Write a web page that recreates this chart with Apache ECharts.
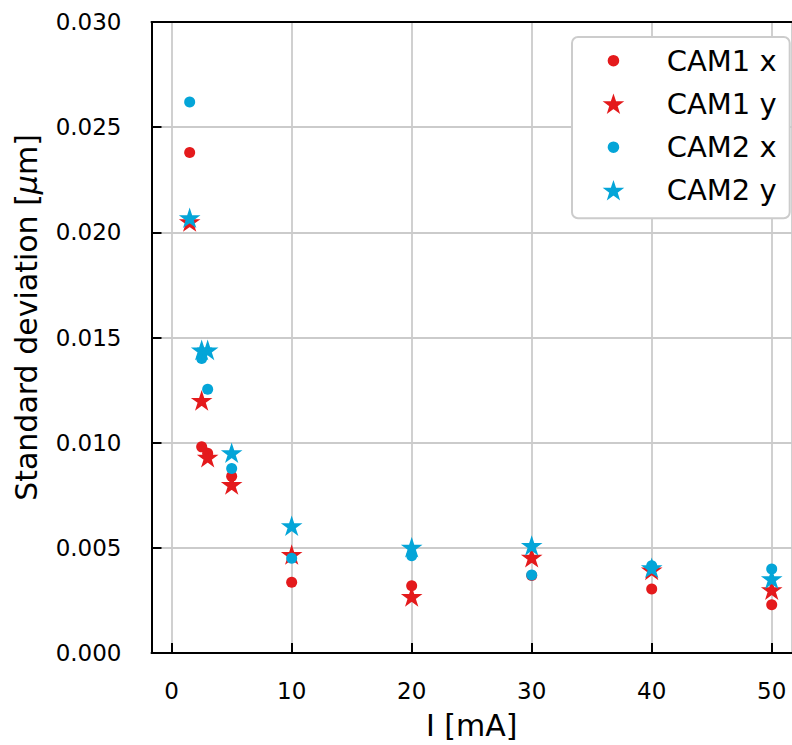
<!DOCTYPE html>
<html>
<head>
<meta charset="utf-8">
<script src="https://cdn.jsdelivr.net/npm/echarts@6/dist/echarts.min.js"></script>
<style>
  html, body { margin: 0; padding: 0; background: #fff; }
  #chart { width: 792px; height: 745px; }
</style>
</head>
<body>
<div id="chart"></div>
<script>
var current = [1.5, 2.5, 3, 5, 10, 20, 30, 40, 50];
var cam1x = [0.0238, 0.0098, 0.0095, 0.0084, 0.00336, 0.0032, 0.00368, 0.00304, 0.00229];
var cam1y = [0.0205, 0.0120, 0.0093, 0.0080, 0.00467, 0.00268, 0.00454, 0.00394, 0.0030];
var cam2x = [0.0262, 0.0140, 0.01254, 0.00877, 0.00451, 0.00462, 0.00371, 0.00415, 0.00399];
var cam2y = [0.02068, 0.0144, 0.0144, 0.00951, 0.00604, 0.00502, 0.0051, 0.00404, 0.00352];
var seriesNames = ['CAM1 x', 'CAM1 y', 'CAM2 x', 'CAM2 y'];

(function() {
  var red = '#e41a1c';
  var cyan = '#04a5d8';
  var font = 'DejaVu Sans';

  // 5-point star like matplotlib's '*' marker
  function starPts(cx, cy, R, r) {
    var s = '';
    for (var k = 0; k < 10; k++) {
      var a = -Math.PI / 2 + k * Math.PI / 5;
      var rad = k % 2 ? r : R;
      s += (k ? ' L' : 'M') + (cx + rad * Math.cos(a)).toFixed(2) + ' ' + (cy + rad * Math.sin(a)).toFixed(2);
    }
    return s + ' Z';
  }
  var star = 'path://' + starPts(50, 50, 50, 19.1);

  // legend icons: padded box so the marker sits where matplotlib puts it
  var boxW = 79, boxH = 30, mx = 30.7, my = 15;
  var legCircle = 'path://M0 0 M' + boxW + ' ' + boxH + ' M' + mx + ' ' + (my - 5.8) +
    ' A5.8 5.8 0 1 1 ' + mx + ' ' + (my + 5.8) + ' A5.8 5.8 0 1 1 ' + mx + ' ' + (my - 5.8) + ' Z';
  var legStar = 'path://M0 0 M' + boxW + ' ' + boxH + ' ' + starPts(mx, my + 0.8, 9, 3.5);

  function pairs(ys) {
    return current.map(function(x, i) { return [x, ys[i]]; });
  }

  var chart = echarts.init(document.getElementById('chart'), null, { renderer: 'svg' });
  chart.setOption({
    animation: false,
    backgroundColor: '#fff',
    textStyle: { fontFamily: font },
    grid: { left: 151.5, top: 22, right: 0, bottom: 89 },
    legend: {
      orient: 'vertical',
      left: 572,
      top: 37,
      padding: [8.7, 13, 12, 10],
      itemWidth: boxW,
      itemHeight: boxH,
      itemGap: 12.5,
      backgroundColor: '#fff',
      borderColor: '#cccccc',
      borderWidth: 2,
      borderRadius: 6,
      textStyle: { fontSize: 29, color: '#000', fontFamily: font },
      data: [
        { name: seriesNames[0], icon: legCircle, itemStyle: { color: red, borderWidth: 0 } },
        { name: seriesNames[1], icon: legStar, itemStyle: { color: red, borderColor: red, borderWidth: 1.5 } },
        { name: seriesNames[2], icon: legCircle, itemStyle: { color: cyan, borderWidth: 0 } },
        { name: seriesNames[3], icon: legStar, itemStyle: { color: cyan, borderColor: cyan, borderWidth: 1.5 } }
      ]
    },
    xAxis: [{
      type: 'value',
      min: -1.68,
      max: 51.69,
      minInterval: 10,
      maxInterval: 10,
      name: 'I [mA]',
      nameLocation: 'middle',
      nameGap: 57,
      nameTextStyle: { fontSize: 30, color: '#000', fontFamily: font },
      axisLine: { show: true, onZero: false, lineStyle: { color: '#000', width: 2 } },
      axisTick: { show: true, inside: true, length: 10, lineStyle: { color: '#000', width: 2 } },
      axisLabel: { fontSize: 23, color: '#000', margin: 26, showMinLabel: false, showMaxLabel: false },
      splitLine: { show: true, lineStyle: { color: '#cbcbcb', width: 1.8 } }
    }, {
      type: 'value',
      position: 'top',
      min: -1.68,
      max: 51.69,
      axisLine: { show: true, onZero: false, lineStyle: { color: '#000', width: 2 } },
      axisTick: { show: false },
      axisLabel: { show: false },
      splitLine: { show: false }
    }],
    yAxis: {
      type: 'value',
      min: 0,
      max: 0.03,
      interval: 0.005,
      name: 'Standard deviation [{i|μ}m]',
      nameLocation: 'middle',
      nameGap: 110,
      nameTextStyle: {
        fontSize: 30, color: '#000', fontFamily: font,
        padding: [0, 0, 0, 40],
        rich: { i: { fontSize: 30, fontStyle: 'italic', fontFamily: font, color: '#000' } }
      },
      axisLine: { show: true, onZero: false, lineStyle: { color: '#000', width: 2 } },
      axisTick: { show: true, inside: true, length: 10, lineStyle: { color: '#000', width: 2 } },
      axisLabel: { fontSize: 23, color: '#000', margin: 30, formatter: function(v) { return v.toFixed(3); } },
      splitLine: { show: true, lineStyle: { color: '#cbcbcb', width: 1.8 } }
    },
    series: [
      { name: seriesNames[0], type: 'scatter', data: pairs(cam1x), symbol: 'circle', symbolSize: 11, itemStyle: { color: red, opacity: 1 } },
      { name: seriesNames[1], type: 'scatter', data: pairs(cam1y), symbol: star, symbolKeepAspect: true, symbolSize: 17, itemStyle: { color: red, borderColor: red, borderWidth: 1.5, opacity: 1 } },
      { name: seriesNames[2], type: 'scatter', data: pairs(cam2x), symbol: 'circle', symbolSize: 11, itemStyle: { color: cyan, opacity: 1 } },
      { name: seriesNames[3], type: 'scatter', data: pairs(cam2y), symbol: star, symbolKeepAspect: true, symbolSize: 17, itemStyle: { color: cyan, borderColor: cyan, borderWidth: 1.5, opacity: 1 } }
    ]
  });

  window.addEventListener('resize', function() { chart.resize(); });
})();
</script>
</body>
</html>
